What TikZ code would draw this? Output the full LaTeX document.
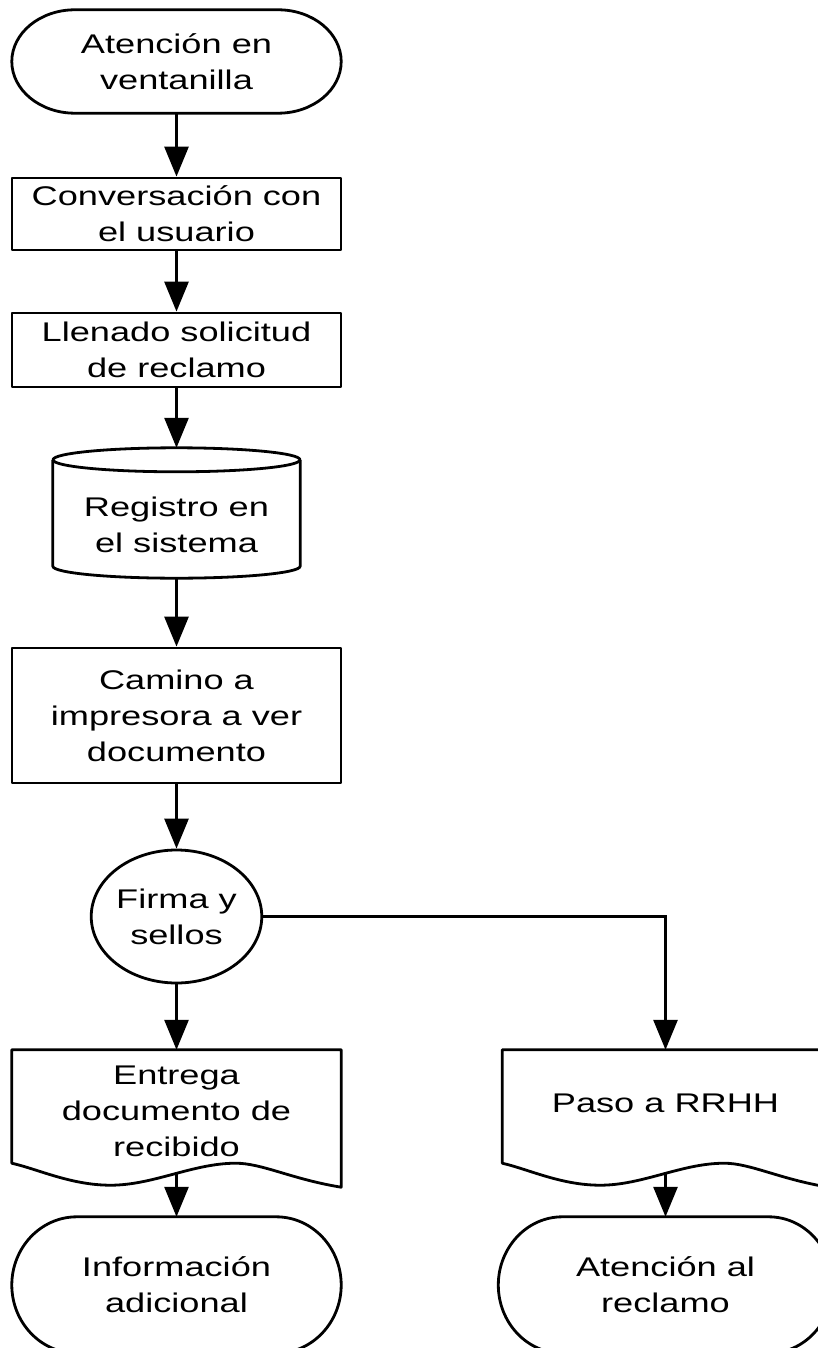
\documentclass[tikz,border=0pt]{standalone}
\usepackage{fontspec}
\setmainfont{Liberation Sans}[FakeStretch=1.34]
\usetikzlibrary{shapes.geometric,arrows.meta,calc}

% terminator: straight top and bottom, elliptical ends
\newcommand\drawterminal[3]{% node, x radius, y radius
  \draw[outline] ($(#1.north west)+(#2,0)$) -- ($(#1.north east)+(-#2,0)$)
    .. controls ($(#1.north east)+({-0.4477*#2},0)$) and ($(#1.east)+(0,{-0.5523*#3})$) .. (#1.east)
    .. controls ($(#1.east)+(0,{0.5523*#3})$) and ($(#1.south east)+({-0.4477*#2},0)$) .. ($(#1.south east)+(-#2,0)$)
    -- ($(#1.south west)+(#2,0)$)
    .. controls ($(#1.south west)+({0.4477*#2},0)$) and ($(#1.west)+(0,{0.5523*#3})$) .. (#1.west)
    .. controls ($(#1.west)+(0,{-0.5523*#3})$) and ($(#1.north west)+({0.4477*#2},0)$) .. cycle;}

% document: box with a wavy bottom edge
\newcommand\drawdocument[1]{%
  \draw[outline] ($(#1.south west)+(0,-10)$) -- (#1.north west) -- (#1.north east) -- ($(#1.south east)+(0,14)$)
    .. controls ($(#1.south west)!0.85!(#1.south east)+(0,6)$) and ($(#1.south west)!0.76!(#1.south east)+(0,-10)$) .. ($(#1.south west)!0.68!(#1.south east)+(0,-10)$)
    .. controls ($(#1.south west)!0.55!(#1.south east)+(0,-10)$) and ($(#1.south west)!0.43!(#1.south east)+(0,12)$) .. ($(#1.south west)!0.3!(#1.south east)+(0,12)$)
    .. controls ($(#1.south west)!0.18!(#1.south east)+(0,12)$) and ($(#1.south west)!0.08!(#1.south east)+(0,-4)$) .. ($(#1.south west)+(0,-10)$) -- cycle;}

\begin{document}
\begin{tikzpicture}[x=1pt,y=-1pt,
  every node/.style={font=\fontsize{27pt}{36pt}\selectfont, align=center, inner sep=0pt, text=black},
  outline/.style={draw=black, line width=2.8pt, line join=round},
  procbox/.style={outline, rectangle, minimum width=329pt},
  shapeonly/.style={rectangle, minimum width=329pt},
  flow/.style={draw=black, line width=2.8pt, -{Triangle[length=30pt,width=24pt]}},
]
\useasboundingbox (0,0) rectangle (818,1348);
\clip (0,0) rectangle (818,1348);

% nodes
\node[shapeonly, minimum height=103pt] (t1) at (176.5,61.5) {Atención en\\ventanilla};
\node[procbox, minimum height=72pt] (b2) at (176.5,214) {Conversación con\\el usuario};
\node[procbox, minimum height=74pt] (b3) at (176.5,350) {Llenado solicitud\\de reclamo};
\node[shapeonly, minimum width=247pt, minimum height=106pt] (db) at (176.5,525) {Registro en\\el sistema};
\node[procbox, minimum height=135pt] (b5) at (176.5,715.5) {Camino a\\impresora a ver\\documento};
\node[outline, ellipse, minimum width=167pt, minimum height=133pt] (fs) at (176.5,916.5) {Firma y\\sellos};
\node[shapeonly, minimum height=123pt] (d1) at (176.5,1111.5) {Entrega\\documento de\\recibido};
\node[shapeonly, minimum width=326pt, minimum height=123pt, text depth=16pt] (d2) at (665.5,1111.5) {Paso a RRHH};
\node[shapeonly, minimum height=136pt] (t2) at (176.5,1285) {Información\\adicional};
\node[shapeonly, minimum width=334pt, minimum height=136pt] (t3) at (665.5,1285) {Atención al\\reclamo};

% outlines of the special shapes
\drawterminal{t1}{63}{51.5}
\drawterminal{t2}{65}{68}
\drawterminal{t3}{64}{68}
\draw[outline] ($(db.north)+(0,-12)$) ellipse [x radius=123.5, y radius=12];
\draw[outline] ($(db.north west)+(0,-12)$) -- ($(db.south west)+(0,-12)$)
  .. controls ($(db.south west)+(0,{-12+0.5523*12})$) and ($(db.south)+({-0.5523*123.5},0)$) .. (db.south)
  .. controls ($(db.south)+({0.5523*123.5},0)$) and ($(db.south east)+(0,{-12+0.5523*12})$) .. ($(db.south east)+(0,-12)$)
  -- ($(db.north east)+(0,-12)$);
\drawdocument{d1}
\drawdocument{d2}

% connectors
\draw[flow] (t1) -- (b2);
\draw[flow] (b2) -- (b3);
\draw[flow] (b3) -- ([yshift=24pt]db.north);
\draw[flow] (db) -- (b5);
\draw[flow] (b5) -- (fs);
\draw[flow] (fs) -- (d1);
\draw[flow] (fs.east) -| (d2.north);
\draw[flow] (d1) -- (t2);
\draw[flow] (d2) -- (t3);
\end{tikzpicture}
\end{document}
